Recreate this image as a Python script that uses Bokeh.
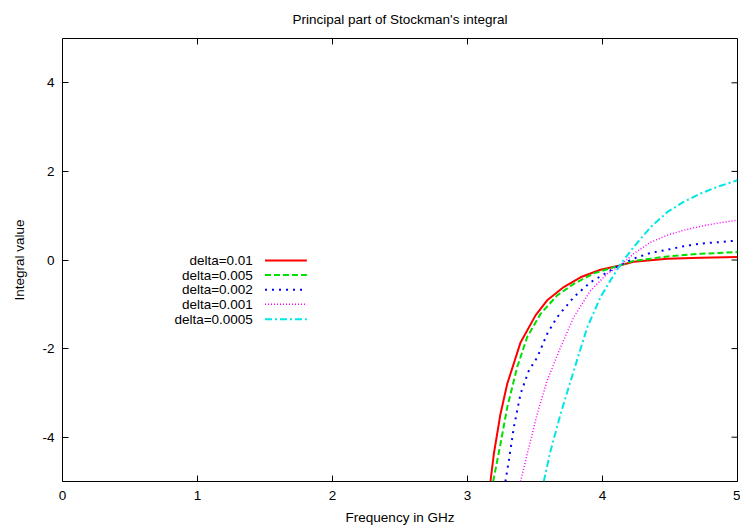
import math
from bokeh.plotting import figure
from bokeh.models import Range1d, FixedTicker, PrintfTickFormatter
from bokeh.core.properties import value
from bokeh.embed import file_html
from bokeh.resources import INLINE

# ---- data ----
labels = ["delta=0.01", "delta=0.005", "delta=0.002", "delta=0.001", "delta=0.0005"]
colors = ["#ff0000", "#00e000", "#0000ff", "#ff00ff", "#00e5e5"]
dashes = ["solid", "6 3", "2 5", "1 2", "7 3 2 3"]
widths = [2, 2, 2, 1.5, 2]

x_d01 = [3.17, 3.195, 3.244, 3.294, 3.393, 3.504, 3.59, 3.713, 3.837, 3.985, 4.12, 4.23, 4.479, 4.726, 5.0]
y_d01 = [-5.0, -4.38, -3.48, -2.80, -1.86, -1.25, -0.91, -0.61, -0.39, -0.22, -0.13, -0.04, 0.03, 0.05, 0.07]

x_d005 = [3.19, 3.244, 3.294, 3.368, 3.442, 3.54, 3.664, 3.787, 3.936, 4.12, 4.23, 4.356, 4.479, 4.726, 5.0]
y_d005 = [-5.0, -4.16, -3.33, -2.42, -1.74, -1.22, -0.80, -0.54, -0.30, -0.13, -0.02, 0.03, 0.08, 0.14, 0.18]

x_d002 = [3.281, 3.306, 3.343, 3.393, 3.454, 3.516, 3.59, 3.664, 3.787, 3.911, 4.12, 4.23, 4.356, 4.479, 4.60, 4.726, 4.85, 5.0]
y_d002 = [-5.0, -4.53, -3.78, -3.02, -2.50, -2.20, -1.67, -1.29, -0.84, -0.50, -0.13, 0.03, 0.16, 0.23, 0.31, 0.37, 0.40, 0.44]

x_d001 = [3.393, 3.442, 3.516, 3.59, 3.689, 3.787, 3.911, 4.035, 4.133, 4.23, 4.356, 4.479, 4.60, 4.726, 4.85, 5.0]
y_d001 = [-5.0, -4.38, -3.48, -2.72, -1.97, -1.29, -0.69, -0.31, -0.12, 0.14, 0.40, 0.56, 0.67, 0.76, 0.83, 0.90]

x_d0005 = [3.565, 3.615, 3.689, 3.787, 3.887, 3.985, 4.059, 4.133, 4.23, 4.356, 4.479, 4.60, 4.726, 4.85, 5.0]
y_d0005 = [-5.0, -4.31, -3.48, -2.50, -1.52, -0.84, -0.46, -0.10, 0.29, 0.74, 1.08, 1.31, 1.50, 1.65, 1.80]

xs = [x_d01, x_d005, x_d002, x_d001, x_d0005]
ys = [y_d01, y_d005, y_d002, y_d001, y_d0005]

x_ticks = [0, 1, 2, 3, 4, 5]
y_ticks = [-4, -2, 0, 2, 4]
x_min, x_max = 0, 5
y_min, y_max = -5, 5

FONT = "Liberation Sans"
FS = "13.5px"

p = figure(width=740, height=529, output_backend="svg", toolbar_location=None,
           x_range=Range1d(x_min, x_max), y_range=Range1d(y_min, y_max),
           min_border_left=62, min_border_right=3, min_border_top=38, min_border_bottom=48)

p.title.text = "Principal part of Stockman's integral"
p.title.align = "center"
p.title.vertical_align = "top"
p.title.padding = 5
p.title.text_font = FONT
p.title.text_font_size = FS
p.title.text_font_style = "normal"
p.title.text_color = "black"
p.title.standoff = 10

p.grid.visible = False
p.outline_line_color = "black"
p.outline_line_width = 1
p.background_fill_color = "white"
p.border_fill_color = "white"

for ax in [p.xaxis[0], p.yaxis[0]]:
    ax.major_tick_in = 6
    ax.major_tick_out = 0
    ax.minor_tick_line_color = None
    ax.axis_line_color = None
    ax.major_label_text_font = FONT
    ax.major_label_text_font_size = FS
    ax.major_label_text_color = "black"
    ax.axis_label_text_font = FONT
    ax.axis_label_text_font_size = FS
    ax.axis_label_text_font_style = "normal"
    ax.axis_label_text_color = "black"
    ax.formatter = PrintfTickFormatter(format="%d")

p.xaxis.ticker = FixedTicker(ticks=x_ticks)
p.yaxis.ticker = FixedTicker(ticks=y_ticks)
p.xaxis.axis_label = "Frequency in GHz"
p.yaxis.axis_label = "Integral value"
p.xaxis.major_label_standoff = 9
p.xaxis.axis_label_standoff = 7
p.yaxis.major_label_standoff = 8
p.yaxis.axis_label_standoff = 12

# mirrored inward ticks on the top and right frame edges
p.ray(x=x_ticks, y=[y_max] * len(x_ticks), length=6, length_units="screen",
      angle=-math.pi / 2, line_color="black", line_width=1)
p.ray(x=[x_max] * len(y_ticks), y=y_ticks, length=6, length_units="screen",
      angle=math.pi, line_color="black", line_width=1)

for x, y, c, d, w in zip(xs, ys, colors, dashes, widths):
    p.line(x, y, line_color=c, line_width=w, line_dash=d)

# gnuplot-style key: label right-aligned, sample line after it
key_text_x = 1.41
key_line_x0, key_line_x1 = 1.50, 1.81
key_y = [-0.01, -0.34, -0.67, -1.00, -1.34]
p.text(x=[key_text_x] * len(labels), y=key_y, text=labels,
       text_align="right", text_baseline="middle",
       text_font=value(FONT), text_font_size=FS, text_color="black")
for ky, c, d, w in zip(key_y, colors, dashes, widths):
    p.line([key_line_x0, key_line_x1], [ky, ky], line_color=c, line_width=w, line_dash=d)

open("out.html", "w").write(file_html(p, INLINE))
